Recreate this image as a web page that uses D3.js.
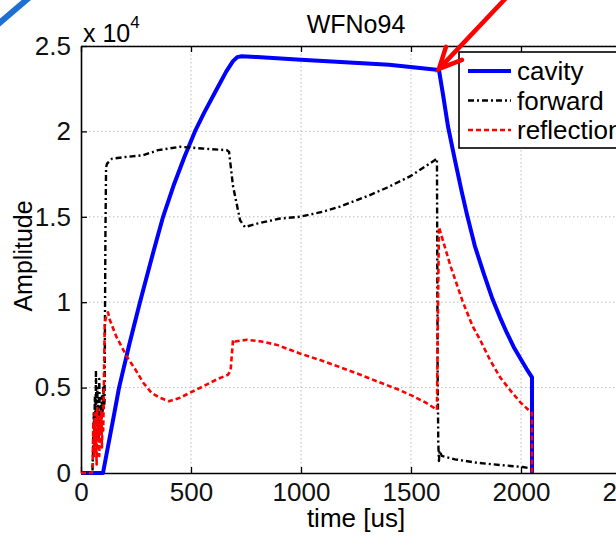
<html>
<head>
<script src="https://d3js.org/d3.v7.min.js"></script>
<style>
body { margin: 0; background: #fff; font-family: Arial, "Liberation Sans", sans-serif; }
.grid line { stroke: #bdbdbd; stroke-dasharray: 1.5,2.5; }
</style>
</head>
<body>
<div id="plot"></div>
<script>
// waveform WFNo94, amplitudes in raw units (axis shows x 10^4)
var cavityT = [0, 100, 120, 150, 173, 220, 268, 300, 330, 373, 420, 470, 518, 560, 618, 660, 690, 710, 730, 800, 1000, 1200, 1400, 1627, 1645, 1668, 1700, 1730, 1755, 1790, 1830, 1870, 1905, 1936, 1970, 2000, 2025, 2050, 2050];
var cavityV = [0, 0, 1370, 3400, 5000, 7550, 10000, 11550, 13000, 15000, 16800, 18500, 20000, 21100, 22500, 23500, 24100, 24350, 24400, 24350, 24200, 24050, 23900, 23600, 22200, 20300, 18300, 16500, 15100, 13300, 11700, 10200, 9100, 8200, 7300, 6650, 6100, 5600, 0];

var forwardT = [0, 52, 55, 58, 60, 63, 66, 68, 71, 74, 77, 80, 83, 86, 89, 92, 95, 98, 101, 104, 107, 109, 111, 114, 118, 125, 141, 200, 282, 350, 450, 550, 663, 673, 691, 723, 745, 800, 905, 995, 1100, 1177, 1300, 1390, 1500, 1618, 1621, 1624, 1627, 1630, 1640, 1700, 1800, 1905, 2009, 2050, 2050];
var forwardV = [0, 0, 1500, 3500, 2000, 4500, 3000, 6000, 2500, 5000, 3500, 2000, 5500, 3000, 4000, 2500, 4500, 3500, 5000, 3800, 4200, 9000, 14000, 17900, 18100, 18200, 18400, 18500, 18600, 18900, 19100, 19000, 18900, 18800, 16800, 14800, 14400, 14600, 14900, 15000, 15300, 15600, 16200, 16700, 17400, 18400, 6000, 1800, 700, 1300, 1000, 800, 600, 470, 350, 250, 0];

var reflectionT = [0, 50, 53, 56, 59, 62, 65, 68, 71, 74, 77, 80, 83, 86, 89, 92, 95, 98, 101, 105, 108, 115, 123, 130, 160, 209, 250, 282, 320, 359, 400, 450, 495, 560, 620, 668, 680, 691, 700, 755, 820, 891, 995, 1090, 1177, 1270, 1359, 1440, 1509, 1570, 1618, 1622, 1627, 1680, 1736, 1780, 1814, 1860, 1905, 1960, 2000, 2050, 2050];
var reflectionV = [0, 0, 500, 3000, 1000, 3500, 1500, 2500, 500, 3800, 2000, 3000, 1000, 3300, 2200, 3600, 1500, 3000, 2500, 6000, 8800, 9200, 9400, 9000, 8000, 6800, 6000, 5300, 4700, 4400, 4200, 4400, 4700, 5100, 5500, 5750, 6000, 7800, 7700, 7800, 7700, 7500, 7000, 6600, 6200, 5750, 5300, 4900, 4500, 4100, 3700, 9000, 14400, 12100, 10000, 8600, 7800, 6600, 5600, 4700, 4100, 3500, 0];

var xTicks = [0, 500, 1000, 1500, 2000, 2500];
var yTicks = [0, 5000, 10000, 15000, 20000, 25000];
var yTickLabels = ["0", "0.5", "1", "1.5", "2", "2.5"];

var legendNames = ["cavity", "forward", "reflection"];

var width = 616, height = 540;
var plotLeft = 81, plotTop = 46, plotBottom = 473;

var svg = d3.select("#plot").append("svg")
.attr("width", width).attr("height", height);

var xScale = d3.scaleLinear().domain([0, 2500]).range([plotLeft, plotLeft + 2500 * 0.22]);
var yScale = d3.scaleLinear().domain([0, 25000]).range([plotBottom, plotTop]);
var plotRight = xScale(2500);

// dotted grid
var grid = svg.append("g").attr("class", "grid");
grid.selectAll("line.gx").data(xTicks.slice(1)).enter().append("line")
.attr("x1", function (d) { return xScale(d); }).attr("x2", function (d) { return xScale(d); })
.attr("y1", plotTop).attr("y2", plotBottom);
grid.selectAll("line.gy").data(yTicks.slice(1)).enter().append("line")
.attr("x1", plotLeft).attr("x2", plotRight)
.attr("y1", function (d) { return yScale(d); }).attr("y2", function (d) { return yScale(d); });

// axes with inward ticks, MATLAB style
var fmtY = function (d, i) { return yTickLabels[i]; };
svg.append("g").attr("transform", "translate(0," + plotBottom + ")")
.call(d3.axisBottom(xScale).tickValues(xTicks).tickFormat(d3.format("d")).tickSizeInner(-6).tickSizeOuter(0).tickPadding(10));
svg.append("g").attr("transform", "translate(0," + plotTop + ")")
.call(d3.axisTop(xScale).tickValues(xTicks).tickSizeInner(-6).tickSizeOuter(0).tickFormat(""));
svg.append("g").attr("transform", "translate(" + plotLeft + ",0)")
.call(d3.axisLeft(yScale).tickValues(yTicks).tickFormat(fmtY).tickSizeInner(-6).tickSizeOuter(0).tickPadding(10));

svg.selectAll(".domain").attr("stroke", "#000").attr("stroke-width", 1.6);
svg.selectAll(".tick line").attr("stroke", "#000").attr("stroke-width", 1.3);
svg.selectAll(".tick text").attr("font-size", 26).attr("font-family", "Arial, 'Liberation Sans', sans-serif").attr("fill", "#111");

// series
var line = d3.line()
.x(function (d) { return xScale(d[0]); })
.y(function (d) { return yScale(d[1]); });

function pairs(t, v) { return t.map(function (x, i) { return [x, v[i]]; }); }

var styles = [
  { color: "#0000ff", width: 4, dash: null },
  { color: "#000", width: 2.4, dash: "6,3,2,3" },
  { color: "#ff0000", width: 2.6, dash: "5,3" }
];
var series = [pairs(cavityT, cavityV), pairs(forwardT, forwardV), pairs(reflectionT, reflectionV)];

series.forEach(function (s, i) {
  svg.append("path").datum(s)
  .attr("d", line)
  .attr("fill", "none")
  .attr("stroke", styles[i].color)
  .attr("stroke-width", styles[i].width)
  .attr("stroke-dasharray", styles[i].dash)
  .attr("stroke-linejoin", "round");
});

// texts
svg.append("text").attr("x", 356).attr("y", 33).attr("text-anchor", "middle")
.attr("font-size", 25).text("WFNo94");
var mult = svg.append("text").attr("x", 83).attr("y", 42).attr("font-size", 25);
mult.append("tspan").text("x 10");
mult.append("tspan").attr("dy", -14).attr("font-size", 17).text("4");
svg.append("text").attr("x", 356).attr("y", 527).attr("text-anchor", "middle")
.attr("font-size", 26).text("time [us]");
svg.append("text").attr("transform", "translate(32,256) rotate(-90)").attr("text-anchor", "middle")
.attr("font-size", 25).text("Amplitude");

// legend
var lg = svg.append("g");
lg.append("rect").attr("x", 459).attr("y", 52).attr("width", 200).attr("height", 96)
.attr("fill", "#fff").attr("stroke", "#000").attr("stroke-width", 1.6);
legendNames.forEach(function (name, i) {
  var y = 71 + i * 29.5;
  lg.append("line").attr("x1", 468).attr("x2", 511).attr("y1", y).attr("y2", y)
  .attr("stroke", styles[i].color).attr("stroke-width", styles[i].width)
  .attr("stroke-dasharray", styles[i].dash);
  lg.append("text").attr("x", 517).attr("y", y + 9).attr("font-size", 26).text(name);
});

// annotation arrow pointing at the cavity corner
var tipX = xScale(1627), tipY = yScale(23600) - 1;
svg.append("path")
.attr("d", "M" + (tipX + 70) + "," + (tipY - 74) + " L" + tipX + "," + tipY +
  " M" + (tipX + 7) + "," + (tipY - 22) + " L" + tipX + "," + tipY + " L" + (tipX + 23) + "," + (tipY - 9))
.attr("fill", "none").attr("stroke", "#ff0000").attr("stroke-width", 4.5).attr("stroke-linecap", "round");

// stray blue stroke in the corner of the screenshot
svg.append("path").attr("d", "M-4,26 L31,-4")
.attr("stroke", "#1e6fd2").attr("stroke-width", 6);
</script>
</body>
</html>
